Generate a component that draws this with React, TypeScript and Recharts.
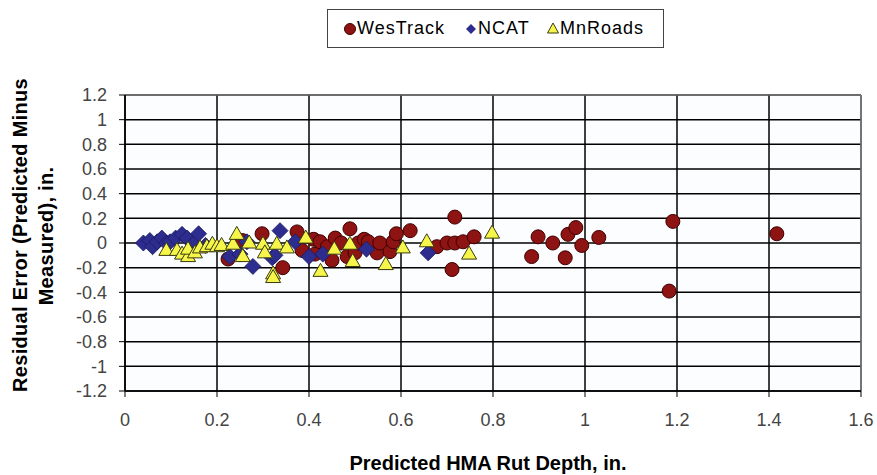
import React from 'react'
import {
  ScatterChart,
  Scatter,
  XAxis,
  YAxis,
  CartesianGrid,
  Legend,
  ReferenceLine,
} from 'recharts'

const FONT = "Arial, 'Liberation Sans', sans-serif"

const xTicks = [0, 0.2, 0.4, 0.6, 0.8, 1, 1.2, 1.4, 1.6]
const yTicks = [-1.2, -1, -0.8, -0.6, -0.4, -0.2, 0, 0.2, 0.4, 0.6, 0.8, 1, 1.2]

// [predicted rut depth, residual error]
const wesTrack: [number, number][] = [
  [0.224, -0.13], [0.255, 0.02], [0.298, 0.075], [0.343, -0.2], [0.374, 0.09],
  [0.385, -0.06], [0.41, 0.03], [0.413, -0.09], [0.424, 0.01], [0.44, -0.03],
  [0.45, -0.14], [0.457, 0.04], [0.47, 0.0], [0.483, -0.11], [0.489, 0.115],
  [0.5, -0.08], [0.507, 0.0], [0.52, 0.03], [0.529, 0.01], [0.548, -0.08],
  [0.554, 0.0], [0.576, -0.07], [0.583, 0.01], [0.59, 0.075], [0.62, 0.1],
  [0.678, -0.03], [0.7, 0.0], [0.711, -0.215], [0.717, 0.21], [0.717, 0.0],
  [0.735, 0.01], [0.759, 0.05], [0.884, -0.11], [0.898, 0.05], [0.93, 0.0],
  [0.957, -0.12], [0.963, 0.07], [0.98, 0.125], [0.993, -0.02], [1.03, 0.045],
  [1.183, -0.39], [1.191, 0.175], [1.417, 0.075],
]

const ncat: [number, number][] = [
  [0.04, 0.0], [0.054, 0.02], [0.06, -0.03], [0.07, 0.01], [0.08, 0.04],
  [0.09, 0.0], [0.098, 0.01], [0.11, 0.04], [0.124, 0.07], [0.135, 0.04],
  [0.148, -0.01], [0.16, 0.075], [0.175, -0.02], [0.228, -0.11], [0.25, -0.09],
  [0.265, 0.01], [0.278, -0.19], [0.32, -0.12], [0.326, -0.1], [0.337, 0.1],
  [0.37, 0.01], [0.4, -0.11], [0.43, -0.09], [0.525, -0.05], [0.659, -0.08],
]

const mnRoads: [number, number][] = [
  [0.09, -0.06], [0.113, -0.06], [0.124, -0.09], [0.137, -0.11], [0.137, -0.05],
  [0.152, -0.08], [0.163, -0.04], [0.178, -0.03], [0.19, -0.01], [0.2, -0.03],
  [0.21, -0.02], [0.235, -0.01], [0.243, 0.07], [0.256, -0.11], [0.27, 0.0],
  [0.3, -0.01], [0.304, -0.08], [0.322, -0.25], [0.322, -0.28], [0.33, -0.01],
  [0.352, -0.04], [0.393, 0.04], [0.425, -0.23], [0.455, -0.05], [0.489, -0.01],
  [0.495, -0.15], [0.567, -0.175], [0.604, -0.04], [0.656, 0.01], [0.748, -0.09],
  [0.798, 0.08],
]

const toPoints = (pairs: [number, number][]) => pairs.map(([x, y]) => ({ x, y }))

const RED = '#8e1313'
const RED_EDGE = '#3f0000'
const NAVY = '#2d2d8f'
const NAVY_EDGE = '#1b1b60'
const YELLOW = '#f6f64a'
const YELLOW_EDGE = '#3a3a10'

const CircleDot = (p: any) => (
  <circle cx={p.cx} cy={p.cy} r={7} fill={RED} stroke={RED_EDGE} strokeWidth={1} />
)

const DiamondDot = (p: any) => {
  const { cx, cy } = p
  const s = 8
  return (
    <path
      d={`M${cx},${cy - s}L${cx + s},${cy}L${cx},${cy + s}L${cx - s},${cy}Z`}
      fill={NAVY}
      stroke={NAVY_EDGE}
      strokeWidth={0.8}
    />
  )
}

const TriangleDot = (p: any) => {
  const { cx, cy } = p
  return (
    <path
      d={`M${cx},${cy - 8}L${cx + 7.5},${cy + 5}L${cx - 7.5},${cy + 5}Z`}
      fill={YELLOW}
      stroke={YELLOW_EDGE}
      strokeWidth={1}
    />
  )
}

const LegendBox = () => (
  <div
    style={{
      position: 'relative',
      width: 337,
      height: 39,
      boxSizing: 'border-box',
      border: '1px solid #444',
      background: '#fff',
      fontFamily: FONT,
      fontSize: 18,
      letterSpacing: 1,
      color: '#000',
    }}
  >
    <svg width={337} height={37} style={{ position: 'absolute', left: 0, top: 0 }}>
      <circle cx={22} cy={19} r={5.5} fill={RED} stroke={RED_EDGE} />
      <path d="M143,14L148,19L143,24L138,19Z" fill={NAVY} />
      <path d="M225,13L230.5,23L219.5,23Z" fill={YELLOW} stroke={YELLOW_EDGE} />
    </svg>
    <span style={{ position: 'absolute', left: 29, top: 8 }}>WesTrack</span>
    <span style={{ position: 'absolute', left: 150, top: 8 }}>NCAT</span>
    <span style={{ position: 'absolute', left: 232, top: 8 }}>MnRoads</span>
  </div>
)

const YTitle = () => (
  <g fontFamily={FONT} fontSize={20} fontWeight="bold" fill="#000" letterSpacing={0.3}>
    <text x={20} y={235} transform="rotate(-90 20 235)" textAnchor="middle" dominantBaseline="central">
      Residual Error (Predicted Minus
    </text>
    <text x={46} y={236} transform="rotate(-90 46 236)" textAnchor="middle" dominantBaseline="central">
      Measured), in.
    </text>
  </g>
)

const XTitle = () => (
  <text x={488} y={470} textAnchor="middle" fontFamily={FONT} fontSize={20} fontWeight="bold" fill="#000">
    Predicted HMA Rut Depth, in.
  </text>
)

export default function App() {
  return (
    <div style={{ position: 'absolute', left: 0, top: 0, width: 877, height: 475, background: '#fff' }}>
      <ScatterChart width={877} height={475} margin={{ top: 95, right: 16, bottom: 0, left: 0 }}>
        <CartesianGrid stroke="#000" strokeWidth={1.5} fill="#fbfdff" />
        <XAxis
          type="number"
          dataKey="x"
          domain={[0, 1.6]}
          ticks={xTicks}
          interval={0}
          allowDataOverflow
          height={84}
          tickSize={6}
          tickMargin={16}
          tick={{ fill: '#444', fontSize: 18, fontFamily: FONT }}
          axisLine={{ stroke: '#000', strokeWidth: 1.5 }}
          tickLine={{ stroke: '#000' }}
          tickFormatter={(v) => String(v)}
          label={{ content: () => <XTitle /> }}
        />
        <YAxis
          type="number"
          dataKey="y"
          domain={[-1.2, 1.2]}
          ticks={yTicks}
          interval={0}
          allowDataOverflow
          width={125}
          tickSize={6}
          tickMargin={12}
          tick={{ fill: '#444', fontSize: 18, fontFamily: FONT }}
          axisLine={{ stroke: '#000', strokeWidth: 1.5 }}
          tickLine={{ stroke: '#000' }}
          tickFormatter={(v) => String(v)}
          label={{ content: () => <YTitle /> }}
        />
        <ReferenceLine y={1.2} stroke="#999" strokeWidth={1.2} />
        <ReferenceLine x={1.6} stroke="#999" strokeWidth={1.2} />
        <Legend
          layout="horizontal"
          align="center"
          verticalAlign="middle"
          wrapperStyle={{ top: 9, left: 327, width: 337 }}
          content={() => <LegendBox />}
        />
        <Scatter name="WesTrack" data={toPoints(wesTrack)} shape={CircleDot} isAnimationActive={false} />
        <Scatter name="NCAT" data={toPoints(ncat)} shape={DiamondDot} isAnimationActive={false} />
        <Scatter name="MnRoads" data={toPoints(mnRoads)} shape={TriangleDot} isAnimationActive={false} />
      </ScatterChart>
    </div>
  )
}
